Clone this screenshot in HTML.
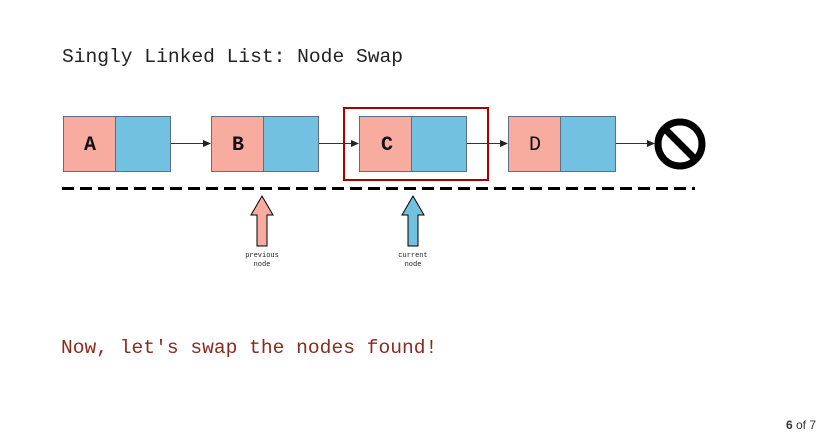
<!DOCTYPE html>
<html><head><style>
body{margin:0;width:822px;height:435px;background:#fff;overflow:hidden;position:relative;font-family:"Liberation Mono",monospace}
.t{position:absolute;font-size:19.6px;white-space:pre;line-height:1}
</style></head><body>
<div class="t" style="left:62px;top:48px;color:#222">Singly Linked List: Node Swap</div>
<div class="t" style="left:61px;top:339px;color:#8b2a1f">Now, let's swap the nodes found!</div>
<div style="position:absolute;right:6px;top:418px;font:12px 'Liberation Sans',sans-serif;color:#333"><b>6</b> of 7</div>
<svg width="822" height="435" style="position:absolute;left:0;top:0">
<defs><marker id="ah" markerWidth="8" markerHeight="8" refX="7" refY="4" orient="auto" markerUnits="userSpaceOnUse"><path d="M0,0.5 L8,4 L0,7.5 z" fill="#222"/></marker></defs>
<g stroke="#5a6f8f" stroke-width="1">
<rect x="63.5" y="116.5" width="52" height="55" fill="#f8aca0"/><rect x="115.5" y="116.5" width="55" height="55" fill="#72c1e0"/>
<rect x="211.5" y="116.5" width="52" height="55" fill="#f8aca0"/><rect x="263.5" y="116.5" width="55" height="55" fill="#72c1e0"/>
<rect x="359.5" y="116.5" width="52" height="55" fill="#f8aca0"/><rect x="411.5" y="116.5" width="55" height="55" fill="#72c1e0"/>
<rect x="508.5" y="116.5" width="52" height="55" fill="#f8aca0"/><rect x="560.5" y="116.5" width="55" height="55" fill="#72c1e0"/>
</g>
<g font-family="Liberation Mono,monospace" font-weight="bold" font-size="20" text-anchor="middle" fill="#111">
<text x="90" y="150">A</text><text x="238" y="150">B</text><text x="387" y="150">C</text><text x="535" y="150" font-weight="normal">D</text>
</g>
<g stroke="#333" stroke-width="1" marker-end="url(#ah)">
<line x1="171" y1="143.5" x2="210" y2="143.5"/><line x1="319" y1="143.5" x2="358" y2="143.5"/>
<line x1="467" y1="143.5" x2="507" y2="143.5"/><line x1="616" y1="143.5" x2="654" y2="143.5"/>
</g>
<rect x="344" y="108" width="144" height="72" fill="none" stroke="#a00" stroke-width="2"/>
<circle cx="680" cy="144" r="22" fill="none" stroke="#000" stroke-width="7"/>
<line x1="665" y1="129" x2="695" y2="159" stroke="#000" stroke-width="7"/>
<line x1="62" y1="188.5" x2="695" y2="188.5" stroke="#000" stroke-width="3" stroke-dasharray="12,6"/>
<path d="M262,196 L273,215 L267,215 L267,246 L257,246 L257,215 L251,215 Z" fill="#f8aca0" stroke="#000" stroke-width="1"/>
<path d="M413,196 L424,215 L418,215 L418,246 L408,246 L408,215 L402,215 Z" fill="#72c1e0" stroke="#000" stroke-width="1"/>
<g font-family="Liberation Mono,monospace" font-size="7" text-anchor="middle" fill="#222">
<text x="262" y="257">previous</text><text x="262" y="266">node</text>
<text x="413" y="257">current</text><text x="413" y="266">node</text>
</g>
</svg>
</body></html>
